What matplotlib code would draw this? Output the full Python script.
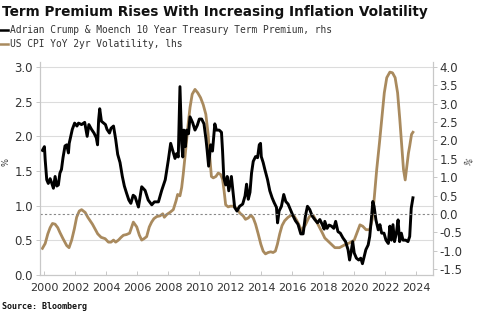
import matplotlib
matplotlib.use('Agg')
import matplotlib.pyplot as plt
from matplotlib.lines import Line2D

# ACM 10y term premium (rhs)
tp_years = [1999.87, 2000.0, 2000.05, 2000.15, 2000.25, 2000.37, 2000.48, 2000.58, 2000.69, 2000.8,
            2000.9, 2001.0, 2001.1, 2001.2, 2001.33, 2001.44, 2001.55, 2001.6, 2001.7, 2001.8,
            2001.95, 2002.1, 2002.2, 2002.4, 2002.6, 2002.76, 2002.87, 2003.04, 2003.2, 2003.35,
            2003.43, 2003.5, 2003.57, 2003.68, 2003.83, 2003.94, 2004.04, 2004.2, 2004.3, 2004.46,
            2004.6, 2004.73, 2004.88, 2005.03, 2005.16, 2005.3, 2005.45, 2005.58, 2005.73, 2005.85,
            2006.07, 2006.28, 2006.5, 2006.7, 2006.93, 2007.1, 2007.36, 2007.57, 2007.8, 2008.0,
            2008.15, 2008.28, 2008.43, 2008.53, 2008.64, 2008.75, 2008.86, 2008.93, 2009.0, 2009.1,
            2009.18, 2009.3, 2009.4, 2009.57, 2009.72, 2009.87, 2010.0, 2010.15, 2010.3, 2010.43,
            2010.5, 2010.6, 2010.73, 2010.85, 2011.0, 2011.1, 2011.28, 2011.43, 2011.5, 2011.58,
            2011.7, 2011.8, 2011.9, 2012.07, 2012.17, 2012.28, 2012.43, 2012.6, 2012.8, 2012.95,
            2013.05, 2013.16, 2013.27, 2013.37, 2013.48, 2013.63, 2013.76, 2013.87, 2013.95, 2014.0,
            2014.12, 2014.23, 2014.4, 2014.55, 2014.7, 2014.83, 2014.98, 2015.05, 2015.15, 2015.3,
            2015.45, 2015.58, 2015.73, 2015.88, 2016.05, 2016.2, 2016.37, 2016.55, 2016.7, 2016.85,
            2016.98, 2017.13, 2017.28, 2017.45, 2017.63, 2017.78, 2017.93, 2018.06, 2018.1, 2018.25,
            2018.38, 2018.53, 2018.68, 2018.8, 2018.95, 2019.1, 2019.27, 2019.44, 2019.6, 2019.7,
            2019.8, 2019.9, 2020.0, 2020.14, 2020.29, 2020.42, 2020.53, 2020.64, 2020.75, 2020.9,
            2021.0, 2021.1, 2021.2, 2021.28, 2021.4, 2021.55, 2021.66, 2021.77, 2021.92, 2022.05,
            2022.2, 2022.3, 2022.4, 2022.5, 2022.6, 2022.72, 2022.83, 2022.93, 2023.04, 2023.15,
            2023.32, 2023.47, 2023.58, 2023.68, 2023.79]
tp_values = [1.73, 1.83, 1.47, 0.93, 0.83, 0.96, 0.83, 0.70, 1.02, 0.76,
             0.79, 1.11, 1.21, 1.53, 1.85, 1.88, 1.66, 1.92, 2.11, 2.30,
             2.47, 2.39, 2.47, 2.43, 2.49, 2.11, 2.43, 2.30, 2.20, 2.07,
             1.88, 2.56, 2.86, 2.52, 2.47, 2.43, 2.30, 2.20, 2.33, 2.39,
             2.03, 1.62, 1.40, 1.02, 0.76, 0.57, 0.38, 0.29, 0.51, 0.47,
             0.19, 0.74, 0.64, 0.38, 0.25, 0.33, 0.33, 0.64, 0.93, 1.47,
             1.92, 1.73, 1.51, 1.64, 1.55, 3.46, 1.92, 1.55, 2.28, 1.83,
             2.28, 2.18, 2.64, 2.48, 2.28, 2.41, 2.58, 2.58, 2.45, 2.03,
             1.75, 1.30, 1.88, 1.71, 2.45, 2.28, 2.28, 2.22, 1.71, 0.98,
             0.79, 1.02, 0.63, 1.02, 0.63, 0.18, 0.08, 0.21, 0.27, 0.49,
             0.81, 0.40, 0.59, 1.11, 1.43, 1.56, 1.53, 1.88, 1.92, 1.56,
             1.40, 1.21, 0.94, 0.63, 0.44, 0.31, 0.18, -0.24, 0.08, 0.21,
             0.53, 0.34, 0.27, 0.12, -0.05, -0.18, -0.28, -0.54, -0.54, -0.05,
             0.21, 0.12, -0.05, -0.15, -0.24, -0.15, -0.28, -0.41, -0.20, -0.39,
             -0.30, -0.33, -0.39, -0.20, -0.48, -0.52, -0.65, -0.75, -0.97, -1.25,
             -1.03, -0.75, -1.06, -1.20, -1.25, -1.20, -1.35, -1.16, -0.97, -0.84,
             -0.61, -0.16, 0.34, 0.21, -0.16, -0.43, -0.29, -0.52, -0.52, -0.71,
             -0.80, -0.33, -0.71, -0.29, -0.75, -0.52, -0.16, -0.75, -0.52, -0.71,
             -0.71, -0.75, -0.61, 0.16, 0.44]

# US CPI YoY 2yr volatility (lhs)
cpi_years = [1999.87, 2000.05, 2000.22, 2000.37, 2000.52, 2000.69, 2000.86, 2001.0, 2001.2, 2001.44,
             2001.59, 2001.76, 2001.93, 2002.08, 2002.25, 2002.4, 2002.63, 2002.8, 2002.95, 2003.1,
             2003.27, 2003.44, 2003.66, 2003.92, 2004.13, 2004.3, 2004.46, 2004.6, 2004.78, 2004.95,
             2005.1, 2005.3, 2005.5, 2005.74, 2005.96, 2006.13, 2006.28, 2006.43, 2006.6, 2006.77,
             2006.92, 2007.07, 2007.25, 2007.46, 2007.64, 2007.74, 2007.9, 2008.1, 2008.32, 2008.5,
             2008.6, 2008.75, 2008.86, 2008.96, 2009.07, 2009.18, 2009.28, 2009.4, 2009.54, 2009.72,
             2009.9, 2010.08, 2010.25, 2010.42, 2010.57, 2010.68, 2010.78, 2010.9, 2011.07, 2011.22,
             2011.37, 2011.5, 2011.6, 2011.7, 2011.86, 2012.0, 2012.2, 2012.4, 2012.62, 2012.83,
             2012.98, 2013.16, 2013.33, 2013.48, 2013.63, 2013.8, 2013.97, 2014.12, 2014.27, 2014.44,
             2014.61, 2014.76, 2014.91, 2015.04, 2015.19, 2015.34, 2015.51, 2015.73, 2015.94, 2016.11,
             2016.3, 2016.6, 2016.85, 2017.1, 2017.35, 2017.65, 2017.95, 2018.1, 2018.43, 2018.75,
             2019.05, 2019.38, 2019.7, 2020.0, 2020.22, 2020.37, 2020.55, 2020.76, 2021.0, 2021.16,
             2021.3, 2021.45, 2021.63, 2021.8, 2021.94, 2022.1, 2022.3, 2022.47, 2022.64, 2022.8,
             2022.94, 2023.07, 2023.18, 2023.29, 2023.4, 2023.5, 2023.58, 2023.7, 2023.79]
cpi_values = [0.38, 0.45, 0.59, 0.68, 0.74, 0.73, 0.68, 0.61, 0.52, 0.42,
              0.39, 0.50, 0.66, 0.83, 0.92, 0.94, 0.90, 0.83, 0.78, 0.73,
              0.66, 0.59, 0.54, 0.52, 0.47, 0.47, 0.50, 0.47, 0.50, 0.54,
              0.57, 0.58, 0.60, 0.76, 0.69, 0.57, 0.50, 0.52, 0.55, 0.69,
              0.76, 0.81, 0.84, 0.85, 0.88, 0.83, 0.87, 0.90, 0.94, 1.07,
              1.16, 1.14, 1.26, 1.45, 1.69, 1.94, 2.18, 2.42, 2.61, 2.68,
              2.63, 2.56, 2.46, 2.32, 2.03, 1.69, 1.42, 1.40, 1.42, 1.47,
              1.45, 1.38, 1.21, 1.01, 0.98, 0.99, 0.99, 0.96, 0.89, 0.85,
              0.80, 0.82, 0.86, 0.82, 0.73, 0.59, 0.44, 0.34, 0.30, 0.32,
              0.33, 0.32, 0.34, 0.44, 0.59, 0.71, 0.78, 0.83, 0.86, 0.85,
              0.78, 0.64, 0.72, 0.84, 0.86, 0.73, 0.60, 0.53, 0.46, 0.39,
              0.39, 0.43, 0.46, 0.50, 0.63, 0.72, 0.70, 0.65, 0.65, 0.80,
              1.13, 1.52, 1.91, 2.30, 2.63, 2.85, 2.93, 2.92, 2.85, 2.63,
              2.25, 1.86, 1.52, 1.37, 1.57, 1.76, 1.86, 2.03, 2.06]

year_ticks = list(range(2000, 2025, 2))
left_ticks = [0.0, 0.5, 1.0, 1.5, 2.0, 2.5, 3.0]
right_ticks = [-1.5, -1.0, -0.5, 0.0, 0.5, 1.0, 1.5, 2.0, 2.5, 3.0, 3.5, 4.0]

black = '#000000'
tan = '#a98a5e'
grid_col = '#dcdcdc'
txt_col = '#333333'

fig = plt.figure(figsize=(4.85, 3.25), dpi=100)
ax = fig.add_axes([0.082, 0.155, 0.81, 0.655])
ax2 = ax.twinx()

ax.plot(cpi_years, cpi_values, color=tan, lw=2.0, solid_joinstyle='round')
ax2.plot(tp_years, tp_values, color=black, lw=2.1, solid_joinstyle='round')
ax2.axhline(0, color='#888888', lw=0.8, ls=(0, (2, 2)))

ax.set_xlim(1999.7, 2025.06)
ax.set_ylim(0, 3.08)
ax2.set_ylim(-1.647, 4.137)

ax.set_xticks(year_ticks)
ax.set_xticklabels([str(y) for y in year_ticks])
ax.set_yticks(left_ticks)
ax.set_yticklabels([f'{v:.1f}' for v in left_ticks])
ax2.set_yticks(right_ticks)
ax2.set_yticklabels([f'{v:.1f}' for v in right_ticks])

ax.grid(axis='y', color=grid_col, lw=0.8)
ax.set_axisbelow(True)

for a in (ax, ax2):
    a.spines['top'].set_visible(False)
    for s in ('left', 'right', 'bottom'):
        a.spines[s].set_color('#c8c8c8')
        a.spines[s].set_linewidth(0.8)
    a.tick_params(colors='#c8c8c8', labelcolor=txt_col, labelsize=8.5, length=3, width=0.7)
ax.tick_params(axis='x', direction='in', pad=6, labelsize=8.1)
ax.tick_params(axis='y', pad=2)
ax2.tick_params(axis='y', pad=2)

fig.text(0.013, 0.50, '%', fontsize=6, color=txt_col, rotation=90, va='center', ha='center')
fig.text(0.968, 0.50, '%', fontsize=6, color=txt_col, rotation=60, va='center', ha='center')

fig.text(0.004, 0.963, 'Term Premium Rises With Increasing Inflation Volatility',
         fontsize=9.8, fontweight='bold', color='#111111', va='center', ha='left')

handles = [Line2D([], [], color=black, lw=1.8), Line2D([], [], color=tan, lw=1.8)]
labels = ['Adrian Crump & Moench 10 Year Treasury Term Premium, rhs',
          'US CPI YoY 2yr Volatility, lhs']
fig.legend(handles, labels, loc='upper left', bbox_to_anchor=(-0.012, 0.935),
           frameon=False, handlelength=1.0, handletextpad=0.2, labelspacing=0.45,
           borderaxespad=0, prop={'family': 'DejaVu Sans Mono', 'size': 6.9}, labelcolor=txt_col)

fig.text(0.004, 0.058, 'Source: Bloomberg', fontsize=6, fontweight='bold',
         family='DejaVu Sans Mono', color='#111111', va='center', ha='left')

fig.savefig('out.png', dpi=100)
